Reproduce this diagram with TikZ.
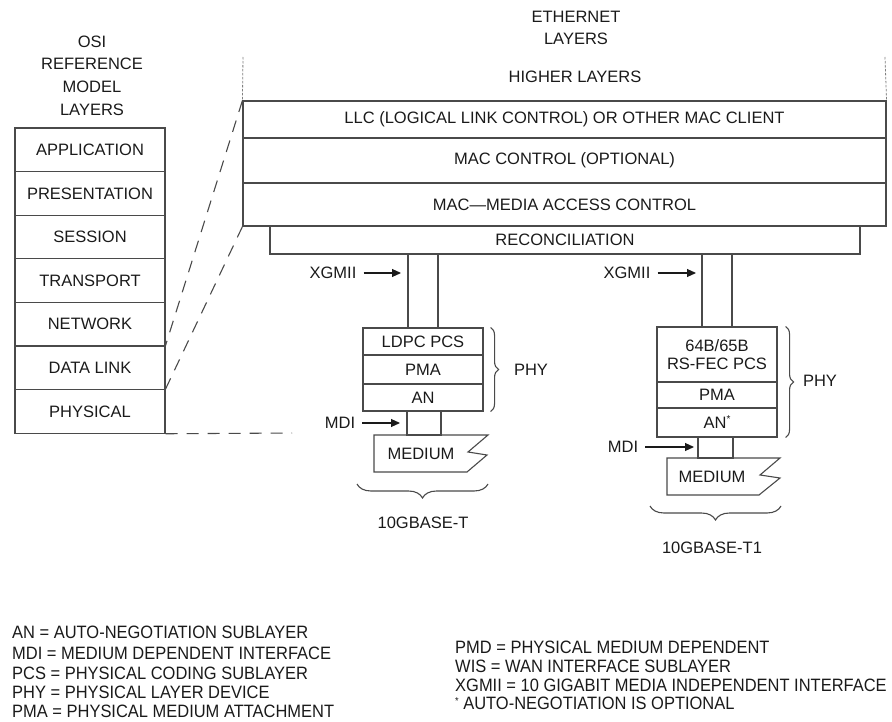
\documentclass[tikz,border=0pt]{standalone}
\usepackage{fontspec}
\setmainfont{Liberation Sans}
\newfontfamily\legfont[FakeStretch=0.92]{Liberation Sans}
\usetikzlibrary{decorations.pathreplacing,arrows.meta}
\definecolor{linec}{HTML}{4A4A4A}
\definecolor{txtc}{HTML}{1A1A1A}
\begin{document}
\begin{tikzpicture}[x=1pt,y=-1pt,
  every node/.style={text=txtc},
  txt/.style={font=\fontsize{16.5}{19}\selectfont, inner sep=0pt},
  layerbox/.style={draw=linec, line width=1.1pt, inner sep=0pt, font=\fontsize{16.5}{19}\selectfont, align=center},
  shaft/.style={draw=linec, line width=1.1pt, inner sep=0pt},
  diag/.style={draw=linec, line width=1.1pt, dash pattern=on 12pt off 9pt},
  dotv/.style={draw=linec!70, line width=0.8pt, dash pattern=on 2.5pt off 1.5pt},
  arr/.style={draw=txtc, line width=1.1pt, -{Triangle[length=9pt,width=8pt]}},
  medshape/.style={draw=linec, line width=1.1pt, line join=miter},
  brc/.style={draw=linec, line width=1.1pt, decorate},
  leg/.style={font=\legfont\fontsize{17.9}{20}\selectfont, inner sep=0pt, anchor=west}
]
\useasboundingbox (0,0) rectangle (892,722);

% OSI heading
\node[txt] (osih1) at (92,42) {OSI};
\node[txt] (osih2) at (92,64) {REFERENCE};
\node[txt] (osih3) at (92,87) {MODEL};
\node[txt] (osih4) at (92,110) {LAYERS};

% OSI stack
\node[layerbox, minimum width=150pt, minimum height=43.6pt] (osi1) at (90,149.8) {APPLICATION};
\node[layerbox, minimum width=150pt, minimum height=43.6pt] (osi2) at (90,193.4) {PRESENTATION};
\node[layerbox, minimum width=150pt, minimum height=43.6pt] (osi3) at (90,237.0) {SESSION};
\node[layerbox, minimum width=150pt, minimum height=43.6pt] (osi4) at (90,280.6) {TRANSPORT};
\node[layerbox, minimum width=150pt, minimum height=43.6pt] (osi5) at (90,324.2) {NETWORK};
\node[layerbox, minimum width=150pt, minimum height=43.6pt] (osi6) at (90,367.8) {DATA LINK};
\node[layerbox, minimum width=150pt, minimum height=43.6pt] (osi7) at (90,411.4) {PHYSICAL};

% Ethernet heading
\node[txt] (eth1) at (576,17) {ETHERNET};
\node[txt] (eth2) at (576,39) {LAYERS};
\node[txt] (higher) at (575,77) {HIGHER LAYERS};

% Ethernet stack
\node[layerbox, minimum width=643pt, minimum height=37pt] (llc) at (564.5,119.5) {LLC (LOGICAL LINK CONTROL) OR OTHER MAC CLIENT};
\node[layerbox, minimum width=643pt, minimum height=45pt] (macc) at (564.5,160.5) {MAC CONTROL (OPTIONAL)};
\node[layerbox, minimum width=643pt, minimum height=43pt] (mac) at (564.5,204.5) {MAC---MEDIA ACCESS CONTROL};
\node[layerbox, minimum width=590pt, minimum height=28pt] (rec) at (565,240) {RECONCILIATION};

% dotted verticals
\coordinate (dl) at (243,57);
\coordinate (dr) at (885,57);
\draw[dotv] (dl) -- (llc.north west);
\draw[dotv] (dr) -- (llc.north east);

% dashed correspondence lines
\draw[diag] (llc.north west) -- (osi6.north east);
\draw[diag] (mac.south west) -- (osi7.north east);
\coordinate (physend) at (292,433);
\draw[diag] (osi7.south east) -- (physend);

% ===== 10GBASE-T =====
\node[shaft, minimum width=30pt, minimum height=74pt] (sh1) at (423,291) {};
\node[layerbox, minimum width=120pt, minimum height=27pt] (pcs1) at (423,341.5) {LDPC PCS};
\node[layerbox, minimum width=120pt, minimum height=29pt] (pma1) at (423,369.5) {PMA};
\node[layerbox, minimum width=120pt, minimum height=27pt] (an1) at (423,397.5) {AN};
\node[shaft, minimum width=34pt, minimum height=24pt] (ss1) at (424,423) {};
\draw[medshape] (374,435) -- (488,435) -- (468,452) -- (487,455) -- (467,472) -- (374,472) -- cycle;
\node[txt] (med1) at (421,453.5) {MEDIUM};

\node[txt] (xg1) at (333,273) {XGMII};
\coordinate (xg1tip) at (401,273);
\draw[arr] ([xshift=7pt]xg1.east) -- (xg1tip);
\node[txt] (mdi1) at (340,423) {MDI};
\coordinate (mdi1tip) at (400,423);
\draw[arr] ([xshift=7pt]mdi1.east) -- (mdi1tip);

\draw[brc, decoration={brace, amplitude=8pt}] ([xshift=7pt]pcs1.north east) -- ([xshift=7pt]an1.south east);
\node[txt] (phy1) at (531,370) {PHY};
\coordinate (b1a) at (488,484);
\coordinate (b1b) at (357,484);
\draw[brc, decoration={brace, amplitude=14pt}] (b1a) -- (b1b);
\node[txt] (name1) at (423,523) {10GBASE-T};

% ===== 10GBASE-T1 =====
\node[shaft, minimum width=30pt, minimum height=73pt] (sh2) at (717,290.5) {};
\node[layerbox, minimum width=120pt, minimum height=55pt] (pcs2) at (717,354.5) {64B/65B\\[-1pt]RS-FEC PCS};
\node[layerbox, minimum width=120pt, minimum height=26pt] (pma2) at (717,395) {PMA};
\node[layerbox, minimum width=120pt, minimum height=29pt] (an2) at (717,422.5) {AN\raisebox{6pt}{\fontsize{10}{10}\selectfont *}};
\node[shaft, minimum width=35pt, minimum height=21pt] (ss2) at (715.5,447.5) {};
\draw[medshape] (667,458) -- (780,458) -- (760,475) -- (780,478) -- (759,495) -- (667,495) -- cycle;
\node[txt] (med2) at (712,476.5) {MEDIUM};

\node[txt] (xg2) at (627,273) {XGMII};
\coordinate (xg2tip) at (696,273);
\draw[arr] ([xshift=7pt]xg2.east) -- (xg2tip);
\node[txt] (mdi2) at (623,447) {MDI};
\coordinate (mdi2tip) at (694,447);
\draw[arr] ([xshift=7pt]mdi2.east) -- (mdi2tip);

\draw[brc, decoration={brace, amplitude=8pt}] ([xshift=8pt]pcs2.north east) -- ([xshift=8pt]an2.south east);
\node[txt] (phy2) at (820,381) {PHY};
\coordinate (b2a) at (781,506);
\coordinate (b2b) at (650,506);
\draw[brc, decoration={brace, amplitude=14pt}] (b2a) -- (b2b);
\node[txt] (name2) at (712,548) {10GBASE-T1};

% ===== legend =====
\node[leg] (l1) at (12,632) {AN = AUTO-NEGOTIATION SUBLAYER};
\node[leg] (l2) at (12,653) {MDI = MEDIUM DEPENDENT INTERFACE};
\node[leg] (l3) at (12,673) {PCS = PHYSICAL CODING SUBLAYER};
\node[leg] (l4) at (12,692) {PHY = PHYSICAL LAYER DEVICE};
\node[leg] (l5) at (12,711) {PMA = PHYSICAL MEDIUM ATTACHMENT};
\node[leg] (r1) at (455,647) {PMD = PHYSICAL MEDIUM DEPENDENT};
\node[leg] (r2) at (455,666) {WIS = WAN INTERFACE SUBLAYER};
\node[leg] (r3) at (455,685) {XGMII = 10 GIGABIT MEDIA INDEPENDENT INTERFACE};
\node[leg] (r4) at (455,703) {\raisebox{5pt}{\fontsize{10}{10}\selectfont *} AUTO-NEGOTIATION IS OPTIONAL};
\end{tikzpicture}
\end{document}
